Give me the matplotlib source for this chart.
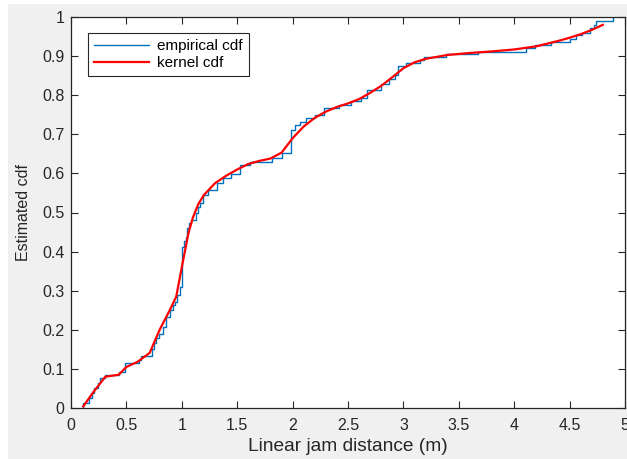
import matplotlib
matplotlib.use("Agg")
import matplotlib.pyplot as plt
from matplotlib.patches import Rectangle

# Empirical CDF: step locations (m) and cdf level after each step
ecdf_x = [0.11, 0.16, 0.19, 0.21, 0.24, 0.26, 0.31, 0.43, 0.49, 0.61, 0.63, 0.73,
          0.75, 0.77, 0.79, 0.83, 0.86, 0.89, 0.92, 0.94, 0.96, 0.98, 1.00, 1.02,
          1.04, 1.05, 1.065, 1.08, 1.125, 1.15, 1.165, 1.19, 1.24, 1.315, 1.375,
          1.44, 1.525, 1.62, 1.81, 1.90, 1.99, 2.02, 2.07, 2.12, 2.20, 2.28, 2.42,
          2.53, 2.62, 2.67, 2.80, 2.87, 2.92, 2.95, 3.02, 3.15, 3.19, 3.38, 3.67,
          4.11, 4.19, 4.33, 4.50, 4.56, 4.61, 4.68, 4.72, 4.74, 4.89]
ecdf_y = [0.013, 0.025, 0.038, 0.05, 0.063, 0.076, 0.084, 0.093, 0.115, 0.123,
          0.132, 0.15, 0.165, 0.178, 0.19, 0.208, 0.234, 0.251, 0.263, 0.272,
          0.289, 0.31, 0.413, 0.426, 0.438, 0.46, 0.474, 0.482, 0.498, 0.515,
          0.524, 0.545, 0.558, 0.575, 0.587, 0.598, 0.621, 0.628, 0.639, 0.651,
          0.711, 0.724, 0.732, 0.742, 0.75, 0.766, 0.775, 0.785, 0.794, 0.813,
          0.828, 0.841, 0.852, 0.875, 0.883, 0.89, 0.897, 0.905, 0.911, 0.921,
          0.928, 0.936, 0.945, 0.954, 0.96, 0.971, 0.98, 0.991, 1.0]

# Kernel-smoothed CDF
kcdf_x = [0.11, 0.2, 0.31, 0.43, 0.5, 0.6, 0.71, 0.8, 0.9, 0.95, 1.0, 1.06, 1.1,
          1.15, 1.2, 1.3, 1.4, 1.5, 1.6, 1.7, 1.8, 1.9, 2.0, 2.1, 2.2, 2.3, 2.4,
          2.5, 2.6, 2.7, 2.8, 2.9, 3.0, 3.1, 3.2, 3.4, 3.6, 3.8, 4.0, 4.2, 4.4,
          4.5, 4.6, 4.7, 4.8]
kcdf_y = [0.004, 0.04, 0.08, 0.085, 0.105, 0.118, 0.141, 0.2, 0.255, 0.285, 0.36,
          0.447, 0.487, 0.522, 0.545, 0.575, 0.594, 0.61, 0.624, 0.632, 0.638,
          0.653, 0.69, 0.72, 0.742, 0.758, 0.77, 0.779, 0.79, 0.806, 0.824, 0.846,
          0.869, 0.884, 0.893, 0.903, 0.908, 0.912, 0.917, 0.925, 0.939, 0.947,
          0.956, 0.967, 0.98]

xticks = [0, 0.5, 1, 1.5, 2, 2.5, 3, 3.5, 4, 4.5, 5]
xticklabels = ["0", "0.5", "1", "1.5", "2", "2.5", "3", "3.5", "4", "4.5", "5"]
yticks = [0, 0.1, 0.2, 0.3, 0.4, 0.5, 0.6, 0.7, 0.8, 0.9, 1]
yticklabels = ["0", "0.1", "0.2", "0.3", "0.4", "0.5", "0.6", "0.7", "0.8", "0.9", "1"]

plt.rcParams['font.family'] = ['Liberation Sans', 'DejaVu Sans']
W, H = 627, 459
fig = plt.figure(figsize=(W / 100, H / 100), dpi=100, facecolor='white')
fig.patches.append(Rectangle((8 / W, 0), 1 - 8 / W, (H - 4) / H, transform=fig.transFigure,
                             facecolor='#f0f0f0', edgecolor='none', zorder=-10))

ax = fig.add_axes([71 / W, (H - 408) / H, (625 - 71) / W, (408 - 17) / H])
ax.set_facecolor('white')

ax.plot([ecdf_x[0]] + ecdf_x, [0] + ecdf_y, drawstyle='steps-post',
        color='#0072BD', lw=1.0, label='empirical cdf')
ax.plot(kcdf_x, kcdf_y, color='#ff0000', lw=1.6, label='kernel cdf')

ax.set_xlim(0, 5)
ax.set_ylim(0, 1)
ax.set_xticks(xticks)
ax.set_xticklabels(xticklabels)
ax.set_yticks(yticks)
ax.set_yticklabels(yticklabels)
ax.tick_params(direction='in', length=5, width=0.8, top=True, right=True,
               labelsize=11.5, colors='#262626')
ax.tick_params(axis='x', pad=7.5)
ax.tick_params(axis='y', pad=4.5)
for s in ax.spines.values():
    s.set_color('#262626')
    s.set_linewidth(0.9)

ax.set_xlabel('Linear jam distance (m)', fontsize=13.8, color='#262626', labelpad=3)
ax.set_ylabel('Estimated cdf', fontsize=11.5, color='#262626', labelpad=8)

leg = ax.legend(loc='upper left', bbox_to_anchor=(0.031, 0.959), fontsize=11,
                frameon=True, fancybox=False, handlelength=3.6, borderpad=0.4,
                labelspacing=0.2, handletextpad=0.5, borderaxespad=0)
leg.get_frame().set_edgecolor('#262626')
leg.get_frame().set_linewidth(0.8)
leg.get_frame().set_alpha(1)

fig.savefig('out.png', dpi=100, facecolor=fig.get_facecolor())
